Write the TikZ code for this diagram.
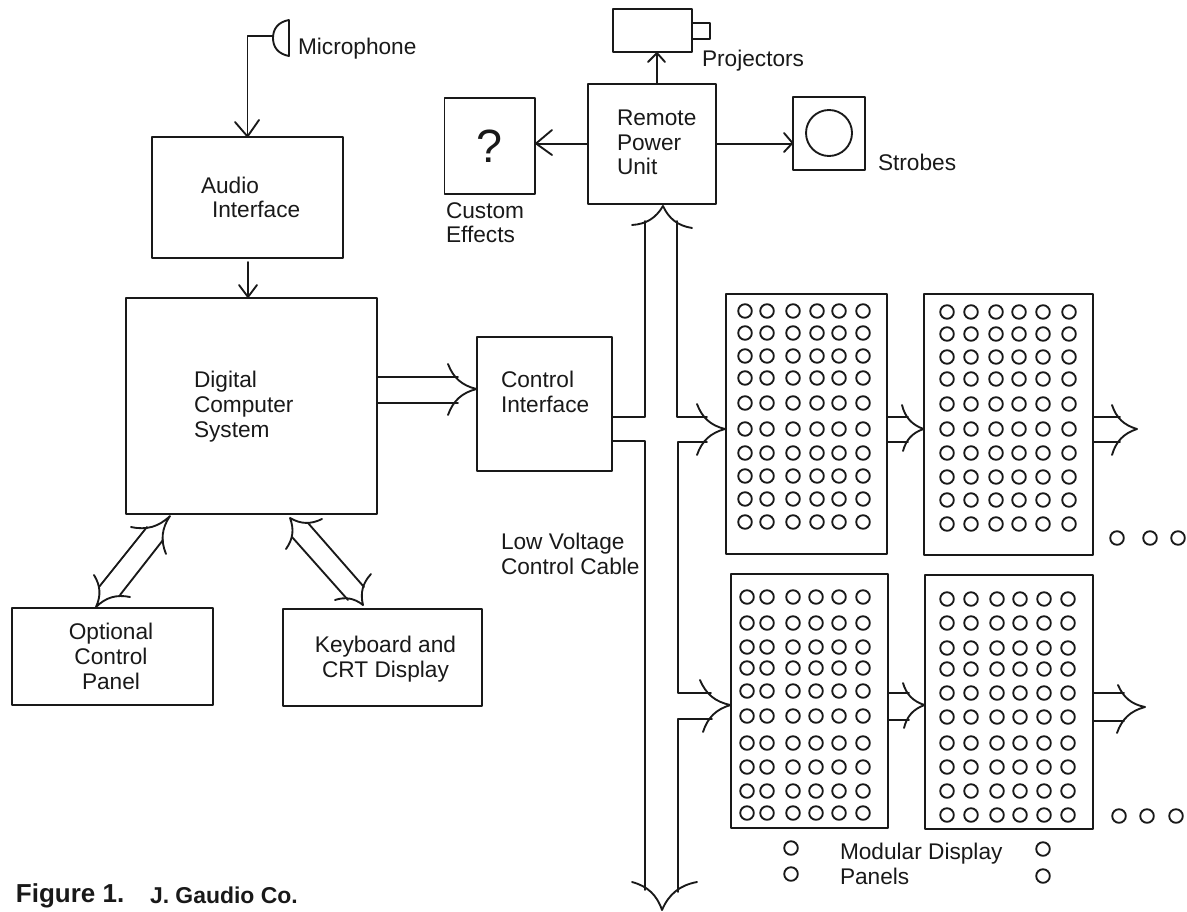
\documentclass[tikz,border=0pt]{standalone}
\usepackage{fontspec}
\setmainfont{Liberation Sans}
\usetikzlibrary{fit,calc}
\tikzset{
  ink/.style={draw=black!90,line width=1.4pt,line cap=round,line join=round},
  boxnode/.style={ink,rectangle,inner sep=0pt,outer sep=0pt},
  lbl/.style={text=black!90,inner sep=0pt,outer sep=0pt,anchor=base west,align=left,font=\fontsize{17}{18.4}\selectfont},
  lblc/.style={lbl,anchor=base,align=center},
  led/.style={ink},
}
% #1 name, #2-#5 corners
\newcommand{\mybox}[5]{\node[boxnode,fit={(#2,#3)(#4,#5)}] (#1) {};}
% curved arrow head: left barb, tip, right barb (relative to the arrow direction)
\newcommand{\bighead}[3]{\draw[ink] (#1) to[bend right=28] (#2) to[bend right=28] (#3);}
\newcommand{\smallhead}[3]{\draw[ink] (#1) -- (#2) -- (#3);}
% LED grid: #1 list of x, #2 list of y
\newcommand{\leds}[2]{\foreach \xx in {#1}{\foreach \yy in {#2}{\draw[led] (\xx,\yy) circle[radius=6.8];}}}
\begin{document}
\begin{tikzpicture}[x=0.75pt,y=-0.75pt]
\path[use as bounding box] (0,0) rectangle (1187,912);

% boxes
\mybox{audio}{152}{137}{343}{258}
\mybox{comp}{126}{298}{377}{514}
\mybox{ctrl}{477}{337}{612}{471}
\mybox{rpu}{588}{84}{716}{204}
\mybox{custom}{444.5}{98}{535}{194}
\mybox{proj}{613}{9}{692}{52}
\mybox{strobe}{793}{97}{865}{170}
\mybox{opt}{12}{608}{213}{705}
\mybox{kbd}{283}{609}{482}{706}
\mybox{pa}{726}{294}{887}{554}
\mybox{pb}{924}{294}{1093}{555}
\mybox{pc}{731}{574}{888}{828}
\mybox{pd}{925}{575}{1093}{829}

% projector lens, strobe lamp, microphone
\draw[ink] (692,23) -- (710,23) -- (710,39) -- (692,39);
\draw[ink] (829,133) circle[radius=23];
\draw[ink] (289,20) -- (289,56) .. controls (278,54) and (273,47) .. (273,38) .. controls (273,29) and (278,22) .. (289,20);
\coordinate (micin) at (273,36);

% labels (the anchor is the baseline of the last line)
\node[lbl] (tmic) at (298,55) {Microphone};
\node[lbl] (taud) at (201,218) {Audio\\\hspace*{8.25pt}Interface};
\node[lbl] (tcomp) at (194,437) {Digital\\Computer\\System};
\node[lbl] (tctrl) at (501,412) {Control\\Interface};
\node[lbl] (trpu) at (617,175) {Remote\\Power\\Unit};
\node[lbl] (tcust) at (446,243) {Custom\\Effects};
\node[lbl] (tproj) at (702,67) {Projectors};
\node[lbl] (tstr) at (878,171) {Strobes};
\node[lbl] (tcable) at (501,574) {Low Voltage\\Control Cable};
\node[lblc] (topt) at (111,689) {Optional\\Control\\Panel};
\node[lblc] (tkbd) at (385.5,677) {Keyboard and\\CRT Display};
\node[lbl] (tmod) at (840,884) {Modular Display\\Panels};
\node[lbl,anchor=base,font=\fontsize{35}{35}\selectfont] (tq) at (489,163) {?};
\node[lbl,font=\bfseries\fontsize{19.5}{22}\selectfont] (tfig) at (16,902) {Figure 1.};
\node[lbl,font=\bfseries\fontsize{17.2}{20}\selectfont] (tco) at (150,903) {J. Gaudio Co.};

% single connectors
\draw[ink] (micin) -- (micin -| audio.north) -- (audio.north);
\smallhead{235,122}{247.5,136.5}{259,120}
\draw[ink] (248,262) -- (248,297.5);
\smallhead{239,285}{248,297}{257,285}
\coordinate (rpuup) at (657,84);
\draw[ink] (rpuup) -- (rpuup |- proj.south);
\smallhead{648,62}{657,53}{665,62}
\draw[ink] (rpu.west) -- (rpu.west -| custom.east);
\smallhead{552,155}{536,143.5}{552,130}
\draw[ink] (rpu.east) -- (rpu.east -| strobe.west);
\smallhead{784,133}{792.5,143}{784,152}

% computer -> control interface
\coordinate (c1) at (377,377); \coordinate (c2) at (377,403);
\draw[ink] (c1) -- (458,377);
\draw[ink] (c2) -- (458,403);
\bighead{448,364}{476.5,389}{448,415}

% control cable
\coordinate (ca) at (612,417); \coordinate (cb) at (612,441);
\draw[ink] (ca) -- (645,417) -- (645,221);
\draw[ink] (677,221) -- (677,417) -- (707,417);
\draw[ink] (cb) -- (645,441) -- (645,890);
\draw[ink] (707,442) -- (678,442) -- (678,693) -- (711,693);
\draw[ink] (712,719) -- (678,719) -- (678,892);
\bighead{632,225}{663,206}{692,228}
\bighead{697,882}{662,910}{632,882}
\bighead{697,404}{725,429}{697,455}
\bighead{700,680}{730.5,705}{703,732}

% between panels
\draw[ink] (pa.east |- 0,417) -- (908,417);
\draw[ink] (pa.east |- 0,442) -- (908,442);
\bighead{902,405}{923.5,429}{903,451}
\draw[ink] (pb.east |- 0,417) -- (1120,417);
\draw[ink] (pb.east |- 0,442) -- (1120,442);
\bighead{1112,405}{1137,429}{1112,455}
\draw[ink] (pc.east |- 0,693) -- (909,693);
\draw[ink] (pc.east |- 0,720) -- (909,720);
\bighead{903,683}{924.5,705}{904,728}
\draw[ink] (pd.east |- 0,693) -- (1124,693);
\draw[ink] (pd.east |- 0,721) -- (1124,721);
\bighead{1118,685}{1145,707}{1117,733}

% computer <-> optional panel
\coordinate (oa) at (147,527); \coordinate (ob) at (99,587);
\coordinate (oc) at (163,540); \coordinate (od) at (120,595);
\draw[ink] (oa) -- (ob);
\draw[ink] (oc) -- (od);
\bighead{131,527}{170,516}{166,554}
\bighead{130,597}{96,607}{94,575}

% computer <-> keyboard
\coordinate (ka) at (308,523); \coordinate (kb) at (364,587);
\coordinate (kc) at (292,537); \coordinate (kd) at (348,600);
\draw[ink] (ka) -- (kb);
\draw[ink] (kc) -- (kd);
\bighead{286,549}{290,518}{322,519}
\bighead{371,574}{363,605}{335,600}

% panel LEDs
\leds{745,767,793,817,839,863}{311,333,356,378,403,429,453,476,499,522}
\leds{947,971,996,1019,1043,1069}{312,334,357,379,404,429,453,477,500,524}
\leds{747,767,793,816,839,863}{597,623,647,668,691,716,743,767,791,813}
\leds{947,971,997,1020,1044,1068}{599,623,648,669,693,717,743,767,791,815}
\leds{1117,1150,1178}{538}
\leds{1119,1147,1176}{816}
\leds{791}{848,874}
\leds{1043}{849,876}
\end{tikzpicture}
\end{document}
